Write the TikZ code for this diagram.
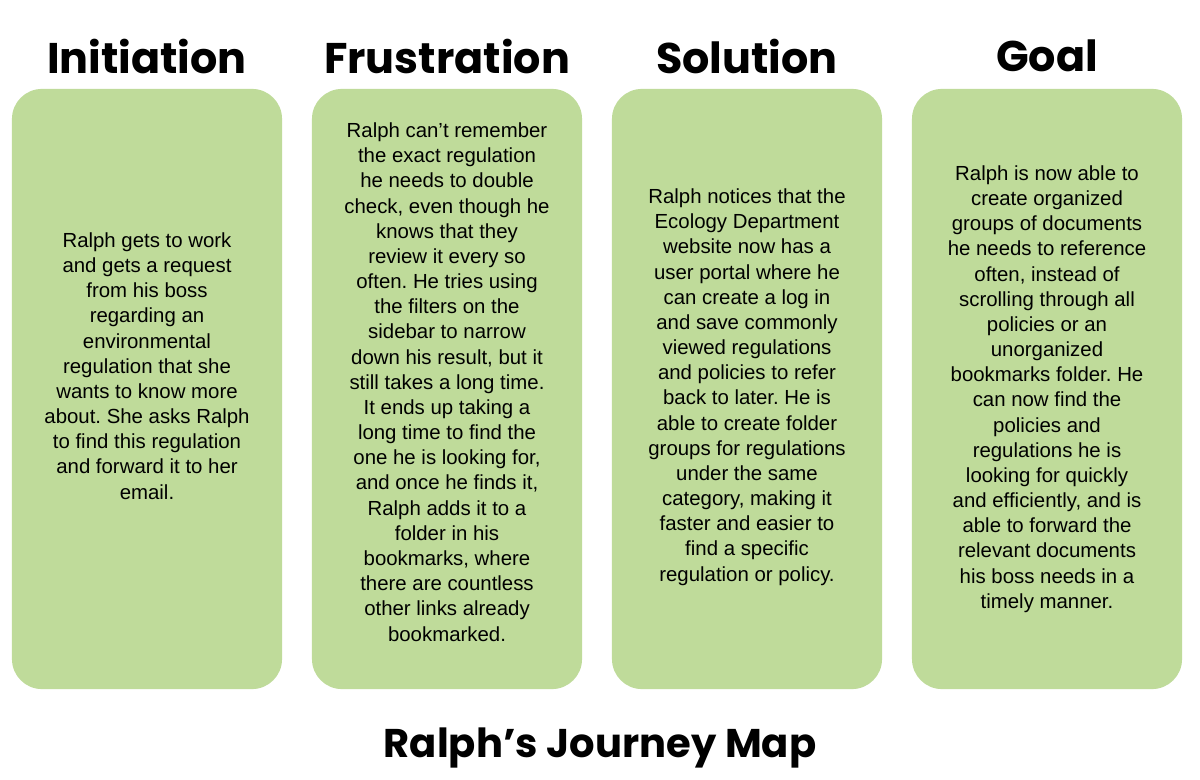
\documentclass[tikz,border=0pt]{standalone}
\usepackage{fontspec}
\setmainfont{Liberation Sans}
\newfontfamily\headfont{Poppins}
\usepackage{xcolor}
\usepackage{tikz}
\usetikzlibrary{positioning}
\definecolor{stagegreen}{HTML}{BFDB9A}
\frenchspacing

\begin{document}
\begin{tikzpicture}[
    x=0.025cm, y=-0.025cm,
    stage/.style={rectangle, fill=stagegreen, rounded corners=0.75cm, minimum width=6.75cm, minimum height=15cm},
    heading/.style={font=\headfont\bfseries\fontsize{30.5}{36}\selectfont},
    story/.style={align=center, font=\fontsize{14.5}{17.9}\selectfont}
]
\useasboundingbox (0,0) rectangle (1200,780);

% Headings
\node[heading] (t1) at (147, 56) {Initiation};
\node[heading] (t2) at (447, 56) {Frustration};
\node[heading] (t3) at (747, 56) {Solution};
\node[heading] (t4) at (1047, 56) {Goal};

% Stage boxes
\node[stage] (s1) at (147, 389) {};
\node[stage] (s2) at (447, 389) {};
\node[stage] (s3) at (747, 389) {};
\node[stage] (s4) at (1047, 389) {};

% Stories
\node[story] (d1) at (147, 366) {Ralph gets to work\\and gets a request\\from his boss\\regarding an\\environmental\\regulation that she\\wants to know more\\about. She asks Ralph\\to find this regulation\\and forward it to her\\email.};
\node[story] (d2) at (447, 382) {Ralph can’t remember\\the exact regulation\\he needs to double\\check, even though he\\knows that they\\review it every so\\often. He tries using\\the filters on the\\sidebar to narrow\\down his result, but it\\still takes a long time.\\It ends up taking a\\long time to find the\\one he is looking for,\\and once he finds it,\\Ralph adds it to a\\folder in his\\bookmarks, where\\there are countless\\other links already\\bookmarked.};
\node[story] (d3) at (747, 387) {Ralph notices that the\\Ecology Department\\website now has a\\user portal where he\\can create a log in\\and save commonly\\viewed regulations\\and policies to refer\\back to later. He is\\able to create folder\\groups for regulations\\under the same\\category, making it\\faster and easier to\\find a specific\\regulation or policy.};
\node[story] (d4) at (1047, 389) {Ralph is now able to\\create organized\\groups of documents\\he needs to reference\\often, instead of\\scrolling through all\\policies or an\\unorganized\\bookmarks folder. He\\can now find the\\policies and\\regulations he is\\looking for quickly\\and efficiently, and is\\able to forward the\\relevant documents\\his boss needs in a\\timely manner.};

% Title
\node[heading, font=\headfont\bfseries\fontsize{28.5}{34}\selectfont] (map) at (600, 748) {Ralph’s Journey Map};

\end{tikzpicture}
\end{document}
